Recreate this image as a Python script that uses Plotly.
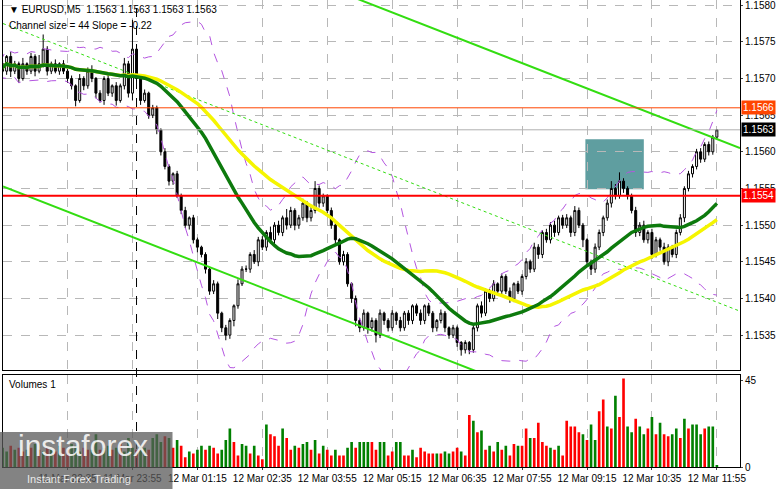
import numpy as np
import pandas as pd
import plotly.graph_objects as go

# precos de fechamento (M5), 178 barras de 11 Mar 21:10 ate 12 Mar 11:55
closes = [
    1.1572, 1.1571, 1.1573, 1.1571, 1.1572, 1.1570, 1.1572, 1.1571, 1.1573, 1.1571, 1.1572, 1.1574, 1.1571, 1.1572, 1.1571, 1.1572, 1.1571, 1.1570,
    1.1569, 1.1567, 1.1570, 1.1569, 1.1571, 1.1570, 1.1568, 1.1567, 1.1570, 1.1568, 1.1569, 1.1567, 1.1569,
    1.1572, 1.1568, 1.1574,
    1.1570, 1.1567, 1.1568, 1.1565, 1.1566, 1.1563, 1.1560,
    1.1558, 1.1556, 1.1557, 1.1554,
    1.1552, 1.1550, 1.1551, 1.1548, 1.1547, 1.1546,
    1.1544, 1.1541, 1.1542, 1.1538, 1.1536, 1.1535, 1.1537, 1.1539, 1.1542, 1.1544,
    1.1544, 1.1546, 1.1545, 1.1548, 1.1547, 1.1549,
    1.1548, 1.1550, 1.1549, 1.1551, 1.1550, 1.1552, 1.1550, 1.1551, 1.1553, 1.1551, 1.1552, 1.1555, 1.1553, 1.1554,
    1.1552, 1.1550, 1.1548, 1.1545, 1.1546, 1.1542, 1.1540, 1.1537,
    1.1536, 1.1538, 1.1536, 1.1537, 1.1535, 1.1538, 1.1537, 1.1536, 1.1538, 1.1537, 1.1536, 1.1538, 1.1537, 1.1539,
    1.1538, 1.1537, 1.1539, 1.1538, 1.1536, 1.1537, 1.1538, 1.1536,
    1.1535, 1.1536, 1.1534, 1.1533, 1.1534, 1.1533,
    1.1536, 1.1539, 1.1538, 1.1541, 1.1540, 1.1542, 1.1541, 1.1543,
    1.1541, 1.1540, 1.1542, 1.1541, 1.1543,
    1.1545, 1.1544, 1.1547, 1.1546, 1.1549, 1.1548, 1.1550, 1.1549, 1.1551, 1.1550,
    1.1551, 1.1549, 1.1552, 1.1550, 1.1548, 1.1545,
    1.1544, 1.1547, 1.1549,
    1.1551, 1.1553, 1.1555, 1.1554, 1.1556, 1.1555, 1.1554,
    1.1552, 1.1549, 1.1550, 1.1548, 1.1549, 1.1546, 1.1548, 1.1547, 1.1545, 1.1547,
    1.1546, 1.1549, 1.1551, 1.1555, 1.1557,
    1.1558, 1.1560, 1.1559, 1.1561, 1.1560, 1.1562, 1.1563,
]
first_open = 1.1571

# sombras em pontos (1e-5)
wick_up = [
    3, 5, 2, 6, 4, 3, 8, 2, 5, 3, 12, 20, 4, 3, 6, 2, 5, 3,
    4, 2, 6, 3, 5, 8, 2, 4, 3, 6, 2, 5, 3,
    8, 4, 40,
    6, 3, 5, 2, 4, 3, 2,
    5, 3, 2, 4,
    3, 5, 2, 4, 3, 2,
    3, 2, 5, 3, 2, 4, 3, 2, 6, 4,
    5, 3, 6, 4, 5, 3,
    8, 4, 6, 3, 12, 5, 3, 4, 6, 3, 5, 10, 4, 3,
    2, 4, 3, 2, 5, 3, 2, 4,
    3, 5, 2, 4, 3, 5, 2, 3, 4, 2, 5, 3, 4, 2,
    3, 5, 2, 4, 3, 2, 5, 3,
    2, 4, 3, 2, 3, 2,
    5, 3, 6, 4, 3, 5, 2, 4,
    3, 5, 2, 4, 3,
    5, 3, 6, 4, 3, 5, 4, 6, 3, 4,
    5, 3, 6, 4, 3, 2,
    3, 5, 4,
    3, 5, 10, 6, 12, 4, 3,
    3, 5, 4, 6, 3, 5, 4, 3, 6, 4,
    3, 4, 5, 3, 4,
    3, 4, 5, 3, 4, 3, 1,
]
wick_dn = [
    6, 3, 5, 8, 4, 6, 3, 5, 4, 7, 3, 5, 6, 4, 3, 5, 4, 6,
    5, 8, 3, 6, 4, 5, 7, 3, 6, 4, 5, 7, 3,
    5, 6, 10,
    4, 6, 3, 5, 4, 6, 5,
    4, 6, 5, 3,
    5, 4, 6, 5, 7, 4,
    6, 5, 4, 8, 6, 7, 5, 8, 4, 3,
    4, 5, 3, 6, 4, 5,
    5, 6, 4, 5, 6, 4, 7, 5, 4, 6, 5, 4, 6, 5,
    4, 5, 6, 4, 5, 4, 6, 8,
    6, 4, 8, 5, 10, 4, 6, 5, 4, 6, 5, 4, 6, 5,
    4, 6, 5, 4, 6, 5, 4, 6,
    5, 4, 6, 8, 5, 6,
    4, 5, 6, 4, 5, 4, 6, 5,
    4, 6, 5, 4, 5,
    4, 5, 4, 6, 5, 4, 5, 6, 4, 5,
    4, 6, 5, 4, 10, 6,
    8, 5, 4,
    5, 4, 6, 5, 4, 6, 5,
    4, 6, 5, 4, 5, 6, 4, 5, 4, 6,
    4, 5, 4, 6, 4,
    5, 4, 5, 4, 5, 4, 3,
]

volumes = [
    9, 10, 8, 11, 9, 10, 8, 9, 10, 12, 9, 8, 10, 9, 8, 11, 10, 9, 12, 11, 8, 10,
    9, 9, 17, 9, 10, 11, 9, 10, 12, 8, 15, 10, 9, 11, 10, 9, 15, 17, 13, 16, 15, 10,
    14, 11, 5, 8, 7, 9, 11, 9, 11, 10, 7, 9, 14, 20, 13, 6, 12, 11, 7, 11, 6, 4,
    22, 17, 16, 11, 20, 15, 9, 11, 10, 12, 13, 9, 14, 7, 11, 9, 6, 9, 6, 6,
    10, 13, 10, 13, 13, 13, 13, 9, 13, 13, 6, 8, 13, 13, 6, 6, 9, 5, 10, 8,
    7, 7, 7, 7, 8, 7, 8, 10, 8, 6,
    27, 24, 18, 19, 9, 11, 8, 13, 9, 11, 6, 12, 11, 11, 20, 15, 15, 23, 13, 11,
    10, 9, 11, 6, 24, 21, 21, 18, 17, 14, 22, 14, 29, 35, 21, 20, 37, 26, 46, 21,
    18, 25, 21, 17, 20, 26, 17, 23, 17, 16, 17, 20, 15, 25, 20, 22, 22, 17, 20, 21,
    21, 1,
]
vol_dir = (
    "rggrgrrgrgrgrgrgrrgggrrggrggrgrgggrggrgggrgr"
    "grrgrggrgrrgggrrggrgrrgrrrgrrgrggrgrgrrgrrgg"
    "rgggrrggrrggrrgr"
    "rrrrgrggrr"
    "grrgrgrgrgrgrrgrrgrrrrgrgrrrrrgrggrrgrgrrggrgg"
    "rgrgrrggrgrgggrgggr"
)

sep_bar = 34          # 12 Mar 00:00
tick_bars = [1, 17, 33, 49, 65, 81, 97, 113, 129, 145, 161, 177]
tick_text = ["11 Mar 2025", "11 Mar 22:35", "11 Mar 23:55", "12 Mar 01:15", "12 Mar 02:35",
             "12 Mar 03:55", "12 Mar 05:15", "12 Mar 06:35", "12 Mar 07:55", "12 Mar 09:15",
             "12 Mar 10:35", "12 Mar 11:55"]
price_ticks = [1.1535, 1.1540, 1.1545, 1.1550, 1.1555, 1.1560, 1.1565, 1.1570, 1.1575, 1.1580]

# canal de regressao: barra inicial, preco, inclinacao por barra
chan_up = (91, 1.15803, -0.0000216)
chan_dn = (0, 1.15555, -0.0000216)

support = 1.1554
resist = 1.1566
last_price = 1.1563
box = (144.6, 159.0, 1.15549, 1.15617)

n = len(closes)
x = np.arange(n)
c = np.array(closes)
o = np.concatenate([[first_open], c[:-1]])
hi = np.maximum(o, c) + np.array(wick_up) * 1e-5
lo = np.minimum(o, c) - np.array(wick_dn) * 1e-5

s = pd.Series(c)
ma_fast = s.rolling(30, min_periods=1).mean()
ma_slow = s.rolling(50, min_periods=1).mean()
bb_mid = s.rolling(20, min_periods=1).mean()
bb_std = s.rolling(20, min_periods=2).std().bfill()
bb_up = bb_mid + 2 * bb_std
bb_dn = bb_mid - 2 * bb_std

XR = [1.1, 182.7]

fig = go.Figure()

fig.add_trace(go.Scatter(x=x, y=bb_up, mode="lines", line=dict(color="#b455e0", width=1, dash="dash"),
                         hoverinfo="skip"))
fig.add_trace(go.Scatter(x=x, y=bb_dn, mode="lines", line=dict(color="#b455e0", width=1, dash="dash"),
                         hoverinfo="skip"))

# canal
def chan_y(p, xs):
    b0, p0, k = p
    return [p0 + k * (xx - b0) for xx in xs]

xs = [XR[0], XR[1]]
yu = chan_y(chan_up, xs)
yd = chan_y(chan_dn, xs)
ym = [(a + b) / 2 for a, b in zip(yu, yd)]
fig.add_trace(go.Scatter(x=xs, y=yu, mode="lines", line=dict(color="#33dd11", width=2), hoverinfo="skip"))
fig.add_trace(go.Scatter(x=xs, y=yd, mode="lines", line=dict(color="#33dd11", width=2), hoverinfo="skip"))
fig.add_trace(go.Scatter(x=xs, y=ym, mode="lines", line=dict(color="#33dd11", width=1, dash="dot"), hoverinfo="skip"))

fig.add_trace(go.Scatter(x=x, y=ma_slow, mode="lines", line=dict(color="#f5f500", width=3.5), hoverinfo="skip"))
fig.add_trace(go.Scatter(x=x, y=ma_fast, mode="lines", line=dict(color="#0d7a0d", width=3.5), hoverinfo="skip"))

fig.add_trace(go.Candlestick(
    x=x, open=o, high=hi, low=lo, close=c,
    increasing=dict(line=dict(color="black", width=1), fillcolor="white"),
    decreasing=dict(line=dict(color="black", width=1), fillcolor="black"),
    whiskerwidth=0, hoverinfo="skip",
))

vcol = ["#008000" if d == "g" else "#ff0000" for d in vol_dir[:n]]
fig.add_trace(go.Bar(x=x, y=volumes, marker_color=vcol, marker_line_width=0, width=0.65,
                     xaxis="x2", yaxis="y2", hoverinfo="skip"))

grid = dict(showgrid=True, gridcolor="#b8b8b8", griddash="dash", gridwidth=1)
frame = dict(showline=True, linecolor="black", linewidth=1, mirror=True, zeroline=False)
tickf = dict(family="Liberation Sans", size=10, color="black")

# o rotulo do topo e escondido pelo plotly (encosta na borda); vai como anotacao
ytext = [f"{p:.4f}" for p in price_ticks[:-1]] + [""]

fig.update_layout(
    width=781, height=489,
    margin=dict(l=3, r=41, t=0, b=22),
    paper_bgcolor="white", plot_bgcolor="white",
    showlegend=False,
    font=dict(family="Liberation Sans", size=10, color="black"),
    xaxis=dict(domain=[0, 1], range=XR, tickvals=tick_bars, showticklabels=False,
               rangeslider=dict(visible=False), **grid, **frame),
    yaxis=dict(domain=[0.207, 1], range=[1.15302, 1.15807], side="right",
               tickvals=price_ticks, ticktext=ytext,
               ticks="outside", ticklen=2, tickfont=tickf, automargin=False, **grid, **frame),
    xaxis2=dict(domain=[0, 1], range=XR, anchor="y2", tickvals=tick_bars, ticktext=tick_text,
                ticks="outside", ticklen=2, tickfont=tickf, automargin=False, **grid, **frame),
    yaxis2=dict(domain=[0.0, 0.198], range=[0, 48], side="right", anchor="x2",
                tickvals=[0, 45], ticks="outside", ticklen=2, tickfont=tickf, automargin=False,
                showgrid=False, **frame),
)

shapes = [
    dict(type="line", xref="x", yref="paper", x0=sep_bar, x1=sep_bar, y0=0, y1=1,
         line=dict(color="black", width=1, dash="dash")),
    dict(type="rect", xref="x", yref="y", x0=box[0], x1=box[1], y0=box[2], y1=box[3],
         fillcolor="#5f9ea0", line=dict(width=0), layer="below"),
    dict(type="line", xref="paper", yref="y", x0=0, x1=1, y0=resist, y1=resist,
         line=dict(color="#ff4500", width=1)),
    dict(type="line", xref="paper", yref="y", x0=0, x1=1, y0=last_price, y1=last_price,
         line=dict(color="#b0b0b0", width=1)),
    dict(type="line", xref="paper", yref="y", x0=0, x1=1, y0=support, y1=support,
         line=dict(color="#ff0000", width=2)),
    dict(type="rect", xref="paper", yref="paper", x0=-0.01, x1=0.23, y0=-0.06, y1=0.075,
         fillcolor="rgba(90,90,90,0.75)", line=dict(width=0), layer="above"),
]
fig.update_layout(shapes=shapes)

ann = [
    dict(x=0.005, y=0.995, xref="paper", yref="paper", xanchor="left", yanchor="top", showarrow=False,
         text="▼ EURUSD,M5  1.1563 1.1563 1.1563 1.1563"),
    dict(x=0.005, y=0.961, xref="paper", yref="paper", xanchor="left", yanchor="top", showarrow=False,
         text="Channel size = 44 Slope = -0.22"),
    dict(x=0.005, y=0.193, xref="paper", yref="paper", xanchor="left", yanchor="top", showarrow=False,
         text="Volumes 1"),
    dict(x=0.018, y=0.045, xref="paper", yref="paper", xanchor="left", yanchor="middle", showarrow=False,
         text="instaforex", font=dict(family="Arial", size=30, color="rgba(255,255,255,0.85)")),
    dict(x=0.03, y=-0.025, xref="paper", yref="paper", xanchor="left", yanchor="middle", showarrow=False,
         text="Instant Forex Trading", font=dict(family="Arial", size=11, color="rgba(255,255,255,0.85)")),
    dict(x=1.0, xshift=3, y=price_ticks[-1], xref="paper", yref="y", xanchor="left", yanchor="middle",
         showarrow=False, text=f"{price_ticks[-1]:.4f}", font=tickf),
]
for val, bg, fg in [(resist, "#ff4500", "white"), (last_price, "black", "white"), (support, "#ff0000", "white")]:
    ann.append(dict(x=1.002, y=val, xref="paper", yref="y", xanchor="left", yanchor="middle", showarrow=False,
                    text=f"{val:.4f}", bgcolor=bg, font=dict(color=fg, size=10), borderpad=1))
fig.update_layout(annotations=ann)

fig.write_html("out.html", config={"displayModeBar": False},
               post_script="document.body.style.margin='0';")
